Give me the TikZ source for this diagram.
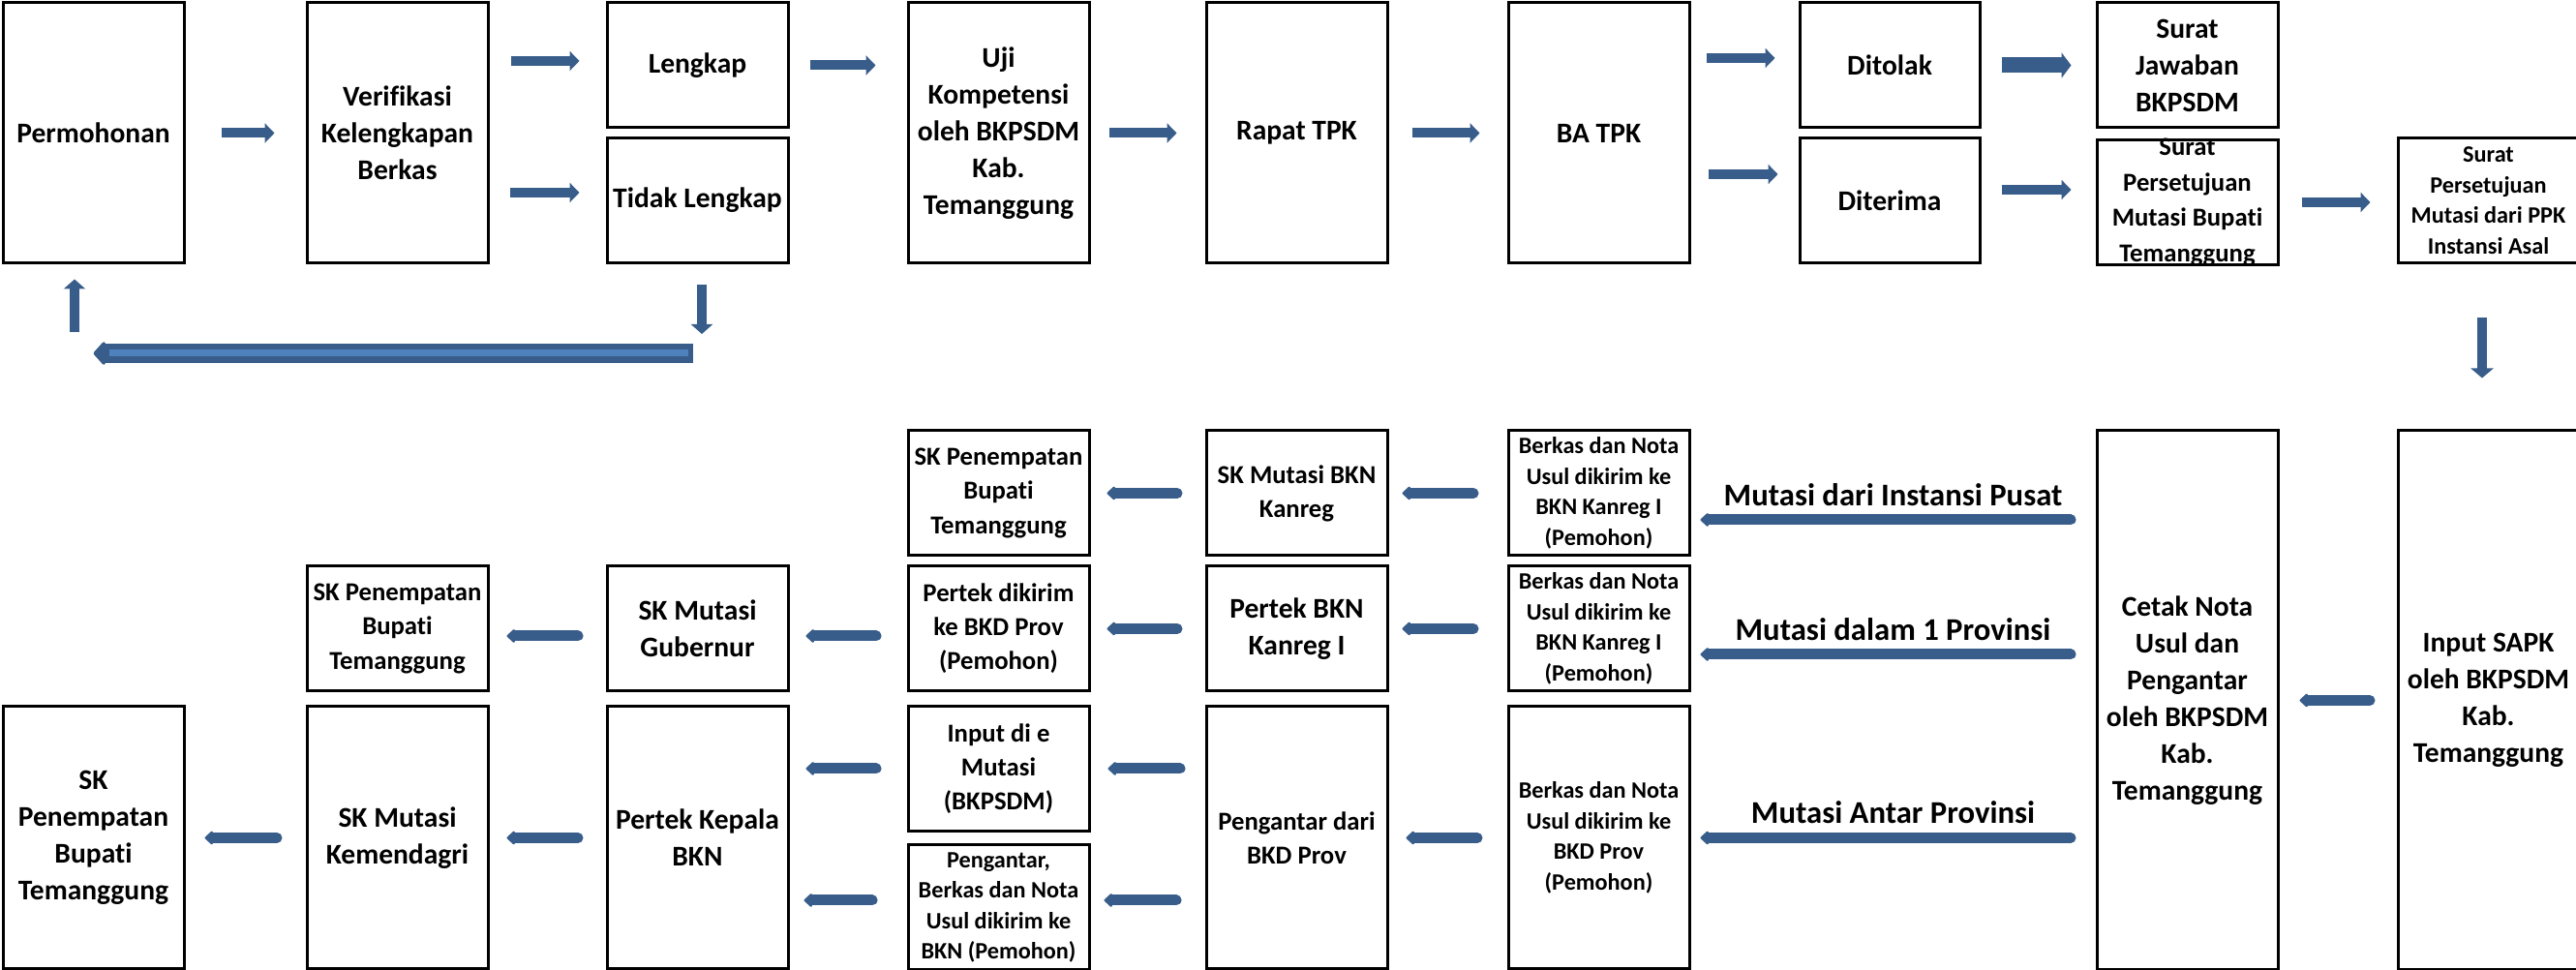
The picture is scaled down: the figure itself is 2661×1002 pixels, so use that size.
\documentclass[tikz,border=0pt]{standalone}
\usepackage{fontspec}
\setmainfont{Carlito}[Ligatures={NoCommon,NoContextual}]
\usepackage{xcolor}
\usetikzlibrary{arrows.meta}

\definecolor{arrowblue}{RGB}{56,93,138}
\definecolor{stripeblue}{RGB}{79,129,189}

\begin{document}
\begin{tikzpicture}[x=0.1mm, y=-0.1mm,
  box/.style={draw, line width=0.3mm, rectangle, align=center, inner sep=0pt,
    minimum width=18.7mm, font=\bfseries\fontsize{8.4}{10.8}\selectfont},
  boxm/.style={box, font=\bfseries\fontsize{7.6}{10}\selectfont},
  boxs/.style={box, font=\bfseries\fontsize{6.9}{9}\selectfont},
  tall/.style={minimum height=26.9mm},
  half/.style={minimum height=12.9mm},
  long/.style={minimum height=27.1mm},
  fwd/.style={draw=arrowblue, line width=1mm, -{Triangle[width=2mm,length=1mm]},
    shorten <=2.2mm, shorten >=2.7mm},
  bwd/.style={draw=arrowblue, line width=1.1mm, line cap=round,
    -{Triangle[round,width=1.6mm,length=0.9mm]}, shorten <=2.85mm, shorten >=1.8mm},
  lbl/.style={font=\bfseries\fontsize{9.3}{11}\selectfont, yshift=2.6mm}
]
\useasboundingbox (0,0) rectangle (2661,1002);

\node (perm) at (96.5,137.5) [box, tall]{Permohonan};
\node (verif) at (410.5,137.5) [box, tall]{Verifikasi\\Kelengkapan\\Berkas};
\node (lengkap) at (720.5,67.5) [box, half]{Lengkap};
\node (tidak) at (720.5,207) [box, half]{Tidak Lengkap};
\node (uji) at (1031.5,137.5) [box, tall]{Uji\\Kompetensi\\oleh BKPSDM\\Kab.\\Temanggung};
\node (rapat) at (1339.5,137.5) [box, tall]{Rapat TPK};
\node (ba) at (1651.5,137.5) [box, tall]{BA TPK};
\node (tolak) at (1952,67.5) [box, half, minimum width=18.6mm]{Ditolak};
\node (terima) at (1952,207) [box, half, minimum width=18.6mm]{Diterima};
\node (jawab) at (2259.5,67.5) [box, half]{Surat\\Jawaban\\BKPSDM};
\node (setuju) at (2259.5,209) [boxm, half, inner ysep=-1mm, font=\bfseries\fontsize{7.6}{10.4}\selectfont]{Surat\\Persetujuan\\Mutasi Bupati\\Temanggung};
\node (ppk) at (2570.5,207) [boxs, half]{Surat\\Persetujuan\\Mutasi dari PPK\\Instansi Asal};

\node (sapk) at (2570.5,723.5) [box, minimum height=55.7mm]{Input SAPK\\oleh BKPSDM\\Kab.\\Temanggung};
\node (cetak) at (2259.5,723.5) [box, minimum height=55.7mm]{Cetak Nota\\Usul dan\\Pengantar\\oleh BKPSDM\\Kab.\\Temanggung};
\node (bk1) at (1651.5,509.5) [boxs, half]{Berkas dan Nota\\Usul dikirim ke\\BKN Kanreg I\\(Pemohon)};
\node (bk2) at (1651.5,649.5) [boxs, half]{Berkas dan Nota\\Usul dikirim ke\\BKN Kanreg I\\(Pemohon)};
\node (bk3) at (1651.5,865.5) [boxs, long]{Berkas dan Nota\\Usul dikirim ke\\BKD Prov\\(Pemohon)};
\node (skbkn) at (1339.5,509.5) [boxm, half]{SK Mutasi BKN\\Kanreg};
\node (pertekbkn) at (1339.5,649.5) [box, half]{Pertek BKN\\Kanreg I};
\node (pgbkd) at (1339.5,865.5) [boxm, long]{Pengantar dari\\BKD Prov};
\node (skpen1) at (1031.5,509.5) [boxm, half]{SK Penempatan\\Bupati\\Temanggung};
\node (pertekkirim) at (1031.5,649.5) [boxm, half]{Pertek dikirim\\ke BKD Prov\\(Pemohon)};
\node (emutasi) at (1031.5,794) [boxm, half]{Input di e\\Mutasi\\(BKPSDM)};
\node (pgberkas) at (1031.5,937.5) [boxs, half]{Pengantar,\\Berkas dan Nota\\Usul dikirim ke\\BKN (Pemohon)};
\node (gub) at (720.5,649.5) [box, half]{SK Mutasi\\Gubernur};
\node (pertekkepala) at (720.5,865.5) [box, long]{Pertek Kepala\\BKN};
\node (skpen2) at (410.5,649.5) [boxm, half]{SK Penempatan\\Bupati\\Temanggung};
\node (kemendagri) at (410.5,865.5) [box, long]{SK Mutasi\\Kemendagri};
\node (skpen3) at (96.5,865.5) [box, long]{SK\\Penempatan\\Bupati\\Temanggung};

\coordinate (ret) at (720.5,365);

\draw[fwd, shorten <=3.7mm, shorten >=3.2mm] (perm) -- (verif);
\draw[fwd] ([yshift=0.45mm]verif.east |- lengkap) -- ([yshift=0.45mm]lengkap.west);
\draw[fwd, shorten <=2.1mm] ([yshift=0.8mm]verif.east |- tidak) -- ([yshift=0.8mm]tidak.west);
\draw[fwd, shorten <=2.1mm, shorten >=3.2mm] (lengkap.east) -- (lengkap.east -| uji.west);
\draw[fwd, shorten <=1.9mm, shorten >=2.9mm] (uji) -- (rapat);
\draw[fwd, shorten <=2.4mm, shorten >=2.8mm] (rapat) -- (ba);
\draw[fwd, shorten <=1.6mm, shorten >=2.4mm] ([yshift=0.75mm]ba.east |- tolak) -- ([yshift=0.75mm]tolak.west);
\draw[fwd, shorten <=1.8mm, shorten >=2.1mm] ([yshift=2.7mm]ba.east |- terima) -- ([yshift=2.7mm]terima.west);
\draw[fwd, line width=1.6mm, -{Triangle[width=2.6mm,length=1mm]}, shorten <=2.1mm, shorten >=2.5mm] (tolak) -- (jawab);
\draw[fwd, shorten <=2.1mm, shorten >=2.5mm] ([yshift=1.1mm]terima.east) -- ([yshift=1.1mm]terima.east -| setuju.west);
\draw[fwd, shorten <=2.3mm] (setuju) -- (setuju -| ppk.west);
\draw[fwd, -{Triangle[width=2.3mm,length=1mm]}, shorten <=5.5mm, shorten >=5.3mm] ([xshift=-0.65mm]ppk.south) -- ([xshift=-0.65mm]sapk.north);

\draw[fwd, -{Triangle[width=2.2mm,length=1mm]}, shorten <=2.1mm, shorten >=2mm] ([xshift=0.45mm]tidak.south) -- ([xshift=0.45mm]tidak.south |- ret);
\draw[draw=arrowblue, line width=2mm, -{Triangle[round,width=2.8mm,length=1.3mm]}, shorten <=0.5mm] (ret) -- (perm.south |- ret);
\draw[stripeblue, line width=0.7mm, shorten <=1mm, shorten >=1.6mm] (ret) -- (perm.south |- ret);
\draw[fwd, -{Triangle[width=2.2mm,length=1mm]}, shorten <=2.2mm, shorten >=1.5mm] ([xshift=-1.95mm]perm.south |- ret) -- ([xshift=-1.95mm]perm.south);

\draw[bwd, shorten <=2.75mm, shorten >=2.1mm] (sapk) -- (cetak);
\draw[bwd, shorten <=2.55mm, shorten >=1mm] ([yshift=-2.75mm]cetak.west |- bk1) -- ([yshift=-2.75mm]bk1.east) node[lbl, midway]{Mutasi dari Instansi Pusat};
\draw[bwd, shorten <=2.55mm, shorten >=1mm] ([yshift=-2.65mm]cetak.west |- bk2) -- ([yshift=-2.65mm]bk2.east) node[lbl, midway]{Mutasi dalam 1 Provinsi};
\draw[bwd, shorten <=2.55mm, shorten >=1mm] (cetak.west |- bk3) -- (bk3.east) node[lbl, midway]{Mutasi Antar Provinsi};

\draw[bwd, shorten <=3.45mm, shorten >=1.4mm] (bk1) -- (skbkn);
\draw[bwd, shorten <=3.45mm, shorten >=1.4mm] (bk2) -- (pertekbkn);
\draw[bwd, shorten <=3.05mm] (bk3) -- (pgbkd);
\draw[bwd, shorten >=1.7mm] (skbkn) -- (skpen1);
\draw[bwd, shorten >=1.7mm] (pertekbkn) -- (pertekkirim);
\draw[bwd, shorten <=2.55mm] (pgbkd.west |- emutasi) -- (emutasi);
\draw[bwd, shorten <=2.95mm, shorten >=1.4mm] ([yshift=0.75mm]pgbkd.west |- pgberkas) -- ([yshift=0.75mm]pgberkas.east);
\draw[bwd, shorten <=3.15mm, shorten >=1.7mm] ([yshift=-0.75mm]pertekkirim.west) -- ([yshift=-0.75mm]gub.east);
\draw[bwd, shorten <=3.15mm, shorten >=1.7mm] (emutasi.west) -- (emutasi.west -| pertekkepala.east);
\draw[bwd, shorten <=3.55mm, shorten >=1.5mm] ([yshift=0.75mm]pgberkas.west) -- ([yshift=0.75mm]pgberkas.west -| pertekkepala.east);
\draw[bwd] ([yshift=-0.75mm]gub.west) -- ([yshift=-0.75mm]skpen2.east);
\draw[bwd] (pertekkepala) -- (kemendagri);
\draw[bwd, shorten <=2.95mm, shorten >=2mm] (kemendagri) -- (skpen3);

\end{tikzpicture}
\end{document}
